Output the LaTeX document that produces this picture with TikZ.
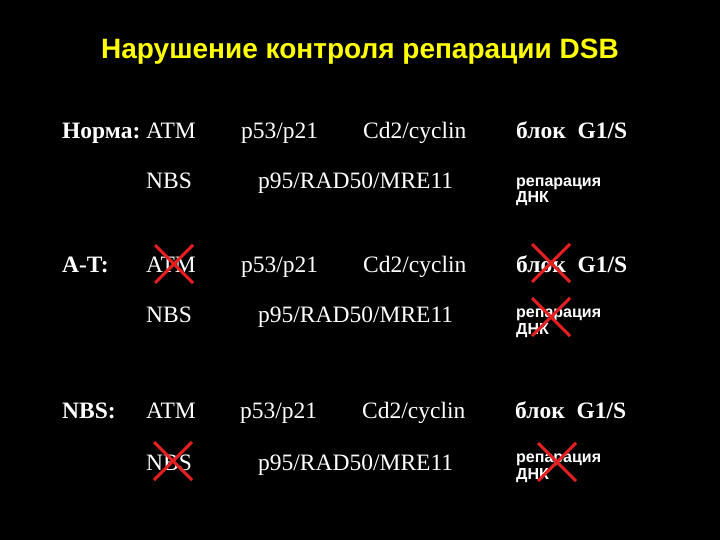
\documentclass[tikz,border=0pt]{standalone}
\usepackage{fontspec}
\setmainfont{Liberation Serif}
\newfontfamily\arialf{Liberation Sans}
\definecolor{xred}{RGB}{228,32,32}
\definecolor{ttl}{RGB}{255,255,0}
\begin{document}
\begin{tikzpicture}[x=1pt,y=-1pt,
  lbl/.style={anchor=base west,inner sep=0pt,text=white,font=\fontsize{23.5}{28}\selectfont},
  blbl/.style={lbl,font=\fontsize{23.5}{28}\selectfont\bfseries},
  small/.style={anchor=base west,inner sep=0pt,text=white,align=left,font=\arialf\bfseries\fontsize{16}{16.5}\selectfont},
  cross/.style={draw=xred,line width=3pt},
  titlestyle/.style={inner sep=0pt,text=ttl,font=\arialf\bfseries\fontsize{28}{30}\selectfont}]
\fill[black] (0,0) rectangle (720,540);
\useasboundingbox (0,0) rectangle (720,540);
\node[titlestyle,anchor=base] (title) at (360,59) {Нарушение контроля репарации DSB};
% row 1
\node[blbl] (norm) at (62,139) {Норма:};
\node[lbl] (atm1) at (146,139) {ATM};
\node[lbl] (p531) at (241,139) {p53/p21};
\node[lbl] (cd1) at (363,139) {Cd2/cyclin};
\node[blbl] (bl1) at (516,139) {блок\ \ G1/S};
\node[lbl] (nbs1) at (146,189) {NBS};
\node[lbl] (p951) at (258,189) {p95/RAD50/MRE11};
\node[small] (rep1) at (516,203) {репарация\\ДНК};
% row 2
\node[blbl] (at) at (62,272) {A-T:};
\node[lbl] (atm2) at (146,272) {ATM};
\node[lbl] (p532) at (241,272) {p53/p21};
\node[lbl] (cd2) at (363,272) {Cd2/cyclin};
\node[blbl] (bl2) at (516,272) {блок\ \ G1/S};
\node[lbl] (nbs2) at (146,322) {NBS};
\node[lbl] (p952) at (258,322) {p95/RAD50/MRE11};
\node[small] (rep2) at (516,334) {репарация\\ДНК};
% row 3
\node[blbl] (nbsl) at (62,418) {NBS:};
\node[lbl] (atm3) at (146,418) {ATM};
\node[lbl] (p533) at (240,418) {p53/p21};
\node[lbl] (cd3) at (362,418) {Cd2/cyclin};
\node[blbl] (bl3) at (515,418) {блок\ \ G1/S};
\node[lbl] (nbs3) at (146,470) {NBS};
\node[lbl] (p953) at (258,470) {p95/RAD50/MRE11};
\node[small] (rep3) at (516,479) {репарация\\ДНК};
% crosses
\foreach \cx/\cy in {174/264, 551/263, 551/317, 173/461, 557/462}{
  \draw[cross] (\cx-19,\cy-19) -- (\cx+19,\cy+19);
  \draw[cross] (\cx+19,\cy-19) -- (\cx-19,\cy+19);
}
\end{tikzpicture}
\end{document}
